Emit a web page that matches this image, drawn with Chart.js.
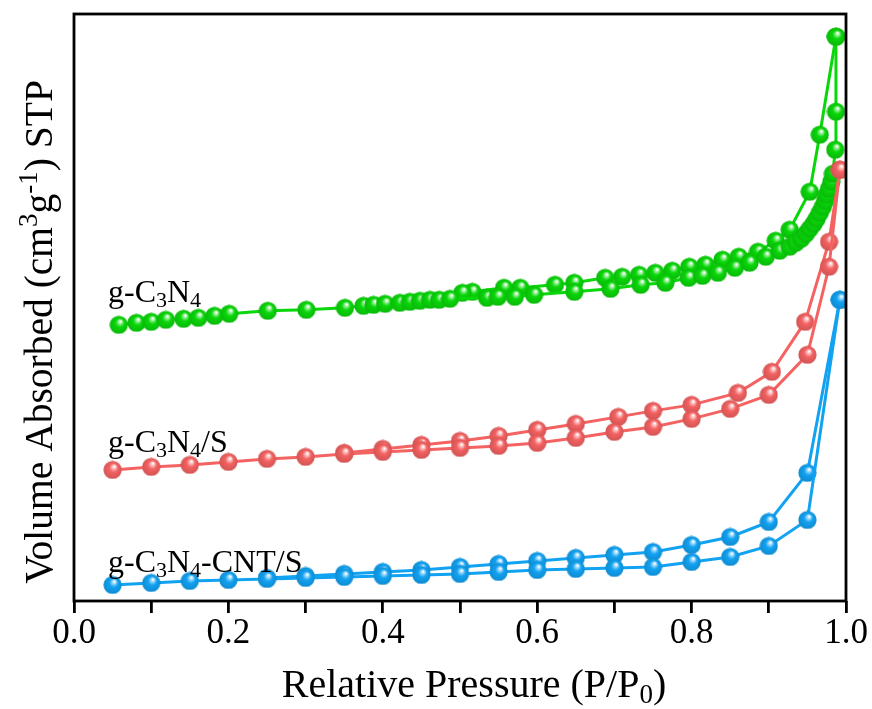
<!DOCTYPE html>
<html>
<head>
<meta charset="utf-8">
<script src="https://cdn.jsdelivr.net/npm/chart.js@4.4.1/dist/chart.umd.min.js"></script>
<style>
  html, body { margin: 0; padding: 0; background: #fff; }
  #wrap { width: 872px; height: 709px; position: relative; }
</style>
</head>
<body>
<div id="wrap"><canvas id="isoChart"></canvas></div>
<script>
// relative pressure (P/P0) and volume (arbitrary units, axis has no scale)
const xTicks = ['0.0', '0.2', '0.4', '0.6', '0.8', '1.0'];

const gcnAdsP = [0.058, 0.081, 0.1, 0.119, 0.142, 0.161, 0.182, 0.201, 0.251, 0.301, 0.351, 0.375, 0.388,
  0.403, 0.422, 0.435, 0.448, 0.461, 0.473, 0.487, 0.535, 0.549, 0.571, 0.596, 0.648, 0.695, 0.734, 0.766,
  0.796, 0.814, 0.834, 0.856, 0.875, 0.896, 0.914, 0.927, 0.935, 0.942, 0.948, 0.953, 0.958, 0.962, 0.966,
  0.97, 0.973, 0.975, 0.978, 0.981, 0.983, 0.986, 0.987, 0.987];
const gcnAdsV = [82.8, 83.4, 83.7, 84.3, 84.6, 84.9, 85.5, 86.1, 87.0, 87.3, 87.9, 88.5, 88.8,
  89.1, 89.4, 89.7, 90.0, 90.3, 90.3, 90.6, 90.9, 91.2, 91.2, 91.8, 92.7, 93.6, 94.8, 95.4,
  96.9, 97.5, 98.4, 99.9, 101.4, 103.2, 105.0, 106.2, 107.4, 108.6, 110.1, 111.6, 113.1, 114.6, 116.4,
  118.2, 120.0, 121.8, 123.6, 125.7, 128.1, 135.3, 146.7, 169.2];
const gcnDesP = [0.987, 0.966, 0.953, 0.927, 0.909, 0.886, 0.861, 0.84, 0.818, 0.797, 0.775, 0.753, 0.732,
  0.71, 0.688, 0.648, 0.623, 0.578, 0.557, 0.516, 0.503];
const gcnDesV = [169.2, 139.8, 122.7, 111.3, 108.0, 104.7, 103.2, 102.3, 100.8, 100.2, 99.0, 98.4, 97.8,
  97.2, 96.9, 95.4, 94.8, 93.9, 93.9, 92.7, 92.4];

const gcnSAdsP = [0.05, 0.1, 0.15, 0.2, 0.25, 0.3, 0.35, 0.4, 0.45, 0.5, 0.55, 0.6, 0.65, 0.7, 0.75, 0.8,
  0.85, 0.9, 0.95, 0.978, 0.992];
const gcnSAdsV = [39.3, 40.2, 40.8, 41.7, 42.6, 43.2, 44.1, 44.7, 45.3, 45.9, 46.5, 47.4, 48.9, 50.7, 52.2, 54.6,
  57.6, 61.8, 73.8, 100.2, 129.3];
const gcnSDesP = [0.992, 0.978, 0.947, 0.904, 0.86, 0.8, 0.75, 0.705, 0.65, 0.6, 0.55, 0.5, 0.45, 0.4, 0.35];
const gcnSDesV = [129.3, 107.7, 83.7, 68.7, 62.4, 58.8, 57.0, 55.2, 53.1, 51.3, 49.5, 48.0, 46.8, 45.6, 44.4];

const cntAdsP = [0.05, 0.1, 0.15, 0.2, 0.25, 0.3, 0.35, 0.4, 0.45, 0.5, 0.55, 0.6, 0.65, 0.7, 0.75, 0.8,
  0.85, 0.9, 0.95, 0.992];
const cntAdsV = [4.8, 5.4, 6.0, 6.3, 6.6, 6.9, 7.2, 7.5, 7.8, 8.1, 8.7, 9.3, 9.6, 9.9, 10.2, 11.7,
  13.2, 16.5, 24.3, 90.3];
const cntDesP = [0.992, 0.95, 0.9, 0.85, 0.8, 0.75, 0.7, 0.65, 0.6, 0.55, 0.5, 0.45, 0.4, 0.35, 0.3, 0.25];
const cntDesV = [90.3, 38.4, 23.7, 19.2, 16.8, 14.7, 13.8, 12.9, 12.0, 11.1, 10.2, 9.3, 8.7, 8.1, 7.5, 6.9];

const GREEN = [10, 215, 10];
const RED   = [244, 98, 98];
const BLUE  = [18, 162, 242];
const SERIF = '"Liberation Serif", "Times New Roman", serif';

const rgb = (c, k = 1) => `rgb(${c.map(v => Math.round(Math.min(255, v * k))).join(',')})`;
const mix = (c, t) => `rgb(${c.map(v => Math.round(v + (255 - v) * t)).join(',')})`;

// shaded ball used as the marker (highlight top-right like the original)
function sphere(c, d) {
  const cv = document.createElement('canvas');
  cv.width = cv.height = d;
  const g = cv.getContext('2d');
  const r = d / 2;
  const grad = g.createRadialGradient(r * 1.2, r * 0.62, 0.5, r, r, r);
  grad.addColorStop(0, '#ffffff');
  grad.addColorStop(0.15, mix(c, 0.6));
  grad.addColorStop(0.42, rgb(c));
  grad.addColorStop(1, rgb(c, 0.85));
  g.fillStyle = grad;
  g.beginPath(); g.arc(r, r, r - 0.4, 0, Math.PI * 2); g.fill();
  return cv;
}

const pts = (px, vy) => px.map((p, i) => ({ x: p, y: vy[i] }));

function branch(px, vy, c) {
  return {
    data: pts(px, vy),
    borderColor: rgb(c),
    borderWidth: 3,
    pointStyle: sphere(c, 19),
    pointRadius: 9.5,
    tension: 0,
    fill: false
  };
}

// text with sub/superscripts: parts = [[text, 'sub'|'sup'|undefined], ...]
function richText(ctx, parts, size, x, y, align) {
  const small = Math.round(size * 0.68);
  const fontOf = k => `${k ? small : size}px ${SERIF}`;
  let w = 0;
  parts.forEach(([t, k]) => { ctx.font = fontOf(k); w += ctx.measureText(t).width; });
  let cx = align === 'center' ? x - w / 2 : x;
  ctx.textBaseline = 'alphabetic';
  ctx.textAlign = 'left';
  parts.forEach(([t, k]) => {
    ctx.font = fontOf(k);
    const dy = k === 'sub' ? size * 0.16 : k === 'sup' ? -size * 0.38 : 0;
    ctx.fillText(t, cx, y + dy);
    cx += ctx.measureText(t).width;
  });
}

const decor = {
  id: 'decor',
  afterDraw(chart) {
    const { ctx, chartArea: a } = chart;
    ctx.save();
    ctx.strokeStyle = '#000';
    ctx.lineWidth = 2.8;
    ctx.strokeRect(a.left, a.top, a.right - a.left, a.bottom - a.top);
    ctx.fillStyle = '#000';

    richText(ctx, [['Relative Pressure (P/P'], ['0', 'sub'], [')']], 40, 474, 697, 'center');

    ctx.save();
    ctx.translate(52, 332);
    ctx.rotate(-Math.PI / 2);
    richText(ctx, [['Volume Absorbed (cm'], ['3', 'sup'], ['g'], ['-1', 'sup'], [') STP']], 39.5, 0, 0, 'center');
    ctx.restore();

    richText(ctx, [['g-C'], ['3', 'sub'], ['N'], ['4', 'sub']], 32, 108, 302);
    richText(ctx, [['g-C'], ['3', 'sub'], ['N'], ['4', 'sub'], ['/S']], 32, 108, 452);
    richText(ctx, [['g-C'], ['3', 'sub'], ['N'], ['4', 'sub'], ['-CNT/S']], 32, 108, 572);
    ctx.restore();
  }
};

new Chart(document.getElementById('isoChart'), {
  type: 'line',
  data: {
    datasets: [
      branch(cntAdsP, cntAdsV, BLUE),
      branch(cntDesP, cntDesV, BLUE),
      branch(gcnSAdsP, gcnSAdsV, RED),
      branch(gcnSDesP, gcnSDesV, RED),
      branch(gcnAdsP, gcnAdsV, GREEN),
      branch(gcnDesP, gcnDesV, GREEN)
    ]
  },
  options: {
    responsive: true,
    maintainAspectRatio: false,
    animation: false,
    layout: { padding: { top: 14, right: 26, left: 0, bottom: 0 } },
    plugins: { legend: { display: false }, tooltip: { enabled: false } },
    scales: {
      x: {
        type: 'linear', min: 0, max: 1,
        afterFit: s => { s.height = 108; },
        border: { display: false },
        grid: { drawOnChartArea: false, tickLength: 12, color: '#000', lineWidth: 2.8 },
        ticks: {
          stepSize: 0.1, autoSkip: false, maxRotation: 0, padding: 0,
          color: '#000', font: { family: SERIF, size: 35 },
          callback: (v, i) => (i % 2 === 0 ? xTicks[i / 2] : '')
        }
      },
      y: {
        type: 'linear', min: 0, max: 176,
        afterFit: s => { s.width = 74; },
        border: { display: false },
        grid: { display: false },
        ticks: { display: false }
      }
    }
  },
  plugins: [decor]
});
</script>
</body>
</html>
